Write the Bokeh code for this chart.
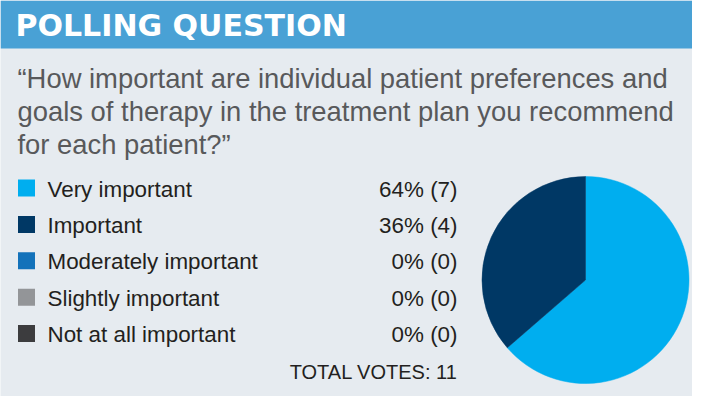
import numpy as np
from bokeh.plotting import figure
from bokeh.models import Range1d, ColumnDataSource
from bokeh.core.properties import value
from bokeh.embed import file_html
from bokeh.resources import INLINE

# ---- data ----
header = "POLLING QUESTION"
question_lines = [
    "\u201cHow important are individual patient preferences and",
    "goals of therapy in the treatment plan you recommend",
    "for each patient?\u201d",
]
categories = ["Very important", "Important", "Moderately important",
              "Slightly important", "Not at all important"]
votes = [7, 4, 0, 0, 0]
colors = ["#00AEEF", "#003865", "#1372BA", "#939598", "#3C3C3E"]

total = sum(votes)
pct = [round(v / total * 100) for v in votes]
val_labels = [f"{p}% ({v})" for p, v in zip(pct, votes)]

# ---- figure (data coords = reference pixel coords, y measured from bottom) ----
H = 412
def Y(y):
    return H - y

p = figure(width=692, height=396, output_backend="svg", toolbar_location=None,
           x_range=Range1d(0, 692), y_range=Range1d(H - 396, H),
           min_border=0, outline_line_color=None)
p.axis.visible = False
p.grid.visible = False
p.background_fill_color = "#E6EBF0"
p.border_fill_color = "#E6EBF0"

# header band
p.quad(left=[0], right=[692], top=[Y(0)], bottom=[Y(48)],
       fill_color="#49A1D5", line_color=None)
p.text(x=[15], y=[Y(25)], text=[header], text_font=value("DejaVu Sans"),
       text_font_style="bold", text_font_size=value("30px"),
       text_color="white", text_baseline="alphabetic", text_align="left")

# question
qy = [Y(78 + i * 33) for i in range(len(question_lines))]
p.text(x=[17] * len(question_lines), y=qy, text=question_lines,
       text_font=value("Liberation Sans"), text_font_size=value("27.4px"),
       text_color="#58595B", text_baseline="alphabetic", text_align="left")

# legend rows
n = len(categories)
base = [196 + i * 36.4 for i in range(n)]
p.rect(x=[26] * n, y=[Y(b - 8.5) for b in base], width=17, height=17,
       fill_color=colors, line_color=None)
p.text(x=[47] * n, y=[Y(b - 7.5) for b in base], text=categories,
       text_font=value("Liberation Sans"), text_font_size=value("22.4px"),
       text_color="#231F20", text_baseline="alphabetic", text_align="left")
p.text(x=[457] * n, y=[Y(b - 7.5) for b in base], text=val_labels,
       text_font=value("Liberation Sans"), text_font_size=value("22.4px"),
       text_color="#231F20", text_baseline="alphabetic", text_align="right")
p.text(x=[457], y=[Y(371)], text=[f"TOTAL VOTES: {total}"],
       text_font=value("Liberation Sans"), text_font_size=value("20px"),
       text_color="#231F20", text_baseline="alphabetic", text_align="right")

# pie (clockwise from 12 o'clock)
frac = np.array(votes) / total
cum = np.concatenate([[0], np.cumsum(frac)])
start = np.pi / 2 - cum[:-1] * 2 * np.pi
end = np.pi / 2 - cum[1:] * 2 * np.pi
keep = [i for i in range(n) if votes[i] > 0]
src = ColumnDataSource(dict(start=[start[i] for i in keep],
                            end=[end[i] for i in keep],
                            color=[colors[i] for i in keep]))
p.wedge(x=585, y=Y(279.5), radius=103.5, start_angle="start", end_angle="end",
        direction="clock", fill_color="color", line_color="color", line_width=0.5,
        source=src)

open("out.html", "w").write(file_html(p, INLINE))
